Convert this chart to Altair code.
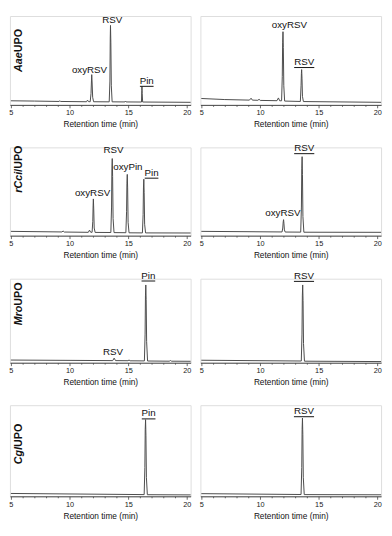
import altair as alt
import pandas as pd

# ---------------- data ----------------
# traces: (retention time [min], detector signal [a.u.])
# Row 1: AaeUPO
aae_left = [(5.0, 4.3), (7.0, 4.0), (9.1, 3.6), (9.17, 4.2), (9.25, 3.6), (11.45, 3.3), (11.53, 5.0),
            (11.62, 3.4), (11.76, 3.3), (11.83, 12), (11.87, 26), (11.89, 31.7), (11.92, 24), (11.97, 8),
            (12.05, 3.3), (13.38, 3.2), (13.44, 25), (13.47, 70), (13.49, 83.3), (13.52, 65), (13.56, 20),
            (13.63, 3.2), (14.72, 3.1), (14.77, 4.0), (14.82, 3.1), (16.13, 3.0), (16.16, 15), (16.17, 19.3),
            (16.19, 12), (16.23, 3.0), (20.32, 2.7)]
aae_right = [(5.0, 6.7), (7.0, 5.6), (9.1, 5.0), (9.24, 7.0), (9.35, 5.0), (9.82, 4.8), (9.92, 5.9),
             (10.02, 4.7), (11.45, 4.4), (11.57, 7.3), (11.68, 4.3), (11.84, 4.3), (11.9, 30), (11.93, 65),
             (11.96, 76.7), (11.99, 60), (12.03, 20), (12.1, 4.0), (13.44, 3.6), (13.5, 20), (13.53, 33),
             (13.55, 37), (13.58, 28), (13.62, 9), (13.7, 3.5), (20.32, 2.7)]
# Row 2: rCciUPO
cci_left = [(5.0, 4.5), (9.35, 3.9), (9.45, 4.9), (9.55, 3.8), (11.6, 3.5), (11.7, 5.8), (11.8, 3.6),
            (11.92, 3.5), (11.98, 15), (12.01, 32), (12.03, 38.5), (12.06, 28), (12.1, 8), (12.18, 3.4),
            (13.52, 3.3), (13.58, 30), (13.61, 70), (13.64, 80.8), (13.67, 62), (13.71, 18), (13.79, 3.2),
            (14.8, 3.1), (14.86, 25), (14.89, 55), (14.92, 64.2), (14.95, 50), (14.99, 14), (15.07, 3.0),
            (16.21, 2.9), (16.27, 22), (16.3, 50), (16.33, 59.2), (16.36, 45), (16.4, 12), (16.48, 2.9),
            (20.32, 2.8)]
cci_right = [(5.0, 4.5), (11.88, 3.9), (11.94, 8), (11.98, 14.5), (12.01, 16.8), (12.04, 13), (12.08, 6),
             (12.15, 3.8), (13.47, 3.7), (13.53, 30), (13.56, 70), (13.59, 82.8), (13.62, 64), (13.66, 20),
             (13.74, 3.6), (20.32, 3.5)]
# Row 3: MroUPO
mro_left = [(5.0, 2.8), (13.68, 2.2), (13.8, 4.8), (13.92, 2.2), (14.98, 2.1), (15.07, 2.9), (15.16, 2.0),
            (16.38, 1.9), (16.44, 30), (16.47, 70), (16.5, 81.5), (16.53, 66), (16.57, 22), (16.65, 1.8),
            (18.5, 1.6), (18.6, 2.3), (18.7, 1.6), (20.32, 1.5)]
mro_right = [(5.0, 2.6), (13.52, 1.8), (13.58, 30), (13.61, 70), (13.64, 81.5), (13.67, 65), (13.71, 20),
             (13.79, 1.6), (20.32, 1.2)]
# Row 4: CglUPO
cgl_left = [(5.0, 3.0), (16.36, 1.8), (16.42, 30), (16.45, 70), (16.48, 80.3), (16.51, 64), (16.55, 20),
            (16.63, 1.7), (20.32, 1.5)]
cgl_right = [(5.0, 2.8), (13.5, 1.9), (13.56, 30), (13.59, 70), (13.62, 82), (13.65, 65), (13.69, 20),
             (13.77, 1.8), (20.32, 1.6)]

# peak labels: (text, centre time, signal level of text baseline, underlined substrate?)
aae_left_lab = [("oxyRSV", 11.70, 33, False), ("RSV", 13.64, 86, False), ("Pin", 16.58, 22, True)]
aae_right_lab = [("oxyRSV", 12.50, 81, False), ("RSV", 13.77, 41.7, True)]
cci_left_lab = [("oxyRSV", 11.96, 41.8, False), ("RSV", 13.75, 86.8, False),
                ("oxyPin", 14.97, 68.5, False), ("Pin", 16.99, 62.8, True)]
cci_right_lab = [("oxyRSV", 11.95, 20.2, False), ("RSV", 13.77, 88.5, True)]
mro_left_lab = [("RSV", 13.71, 8.2, False), ("Pin", 16.72, 88.2, True)]
mro_right_lab = [("RSV", 13.75, 87.8, True)]
cgl_left_lab = [("Pin", 16.74, 83.7, True)]
cgl_right_lab = [("RSV", 13.75, 86, True)]

row_names = [("Aae", "UPO"), ("rCci", "/UPO"), ("Mro", "UPO"), ("Cgl", "UPO")]
tick_values = [5, 5.5, 6, 6.5, 7, 7.5, 8, 8.5, 9, 9.5, 10, 10.5, 11, 11.5, 12, 12.5, 13, 13.5, 14, 14.5,
               15, 15.5, 16, 16.5, 17, 17.5, 18, 18.5, 19, 19.5, 20]
tick_labels = [5, 10, 15, 20]

# ---------------- layout / style ----------------
FONT = "Liberation Sans"
TRACE = "#4a4a4a"
W = 185
K = 0.977                      # px per signal unit
PANEL_H = [91, 90.4, 86, 93.3]
ROW_GAP = 43.5
ROW_LABEL_Y = [37.1, 25, 27.6, 42.7]
ROW_LABEL_X = 12.5
UNDER_HALF = {"Pin": 7, "RSV": 10.3}

AXIS = alt.Axis(
    values=tick_values,
    format="d",
    labelExpr="indexof(" + str(tick_labels) + ", datum.value) >= 0 ? datum.label : ''",
    tickSize={"condition": {"test": "datum.value % 2.5 === 0", "value": 3}, "value": 1.5},
    tickColor="#444", domainColor="#444", domainWidth=1, tickWidth=0.8,
    labelFont=FONT, labelFontSize=7.5, labelColor="#222", labelPadding=1, labelFlush=False,
    titleFont=FONT, titleFontSize=8.5, titleFontWeight="normal", titleColor="#111", titlePadding=4,
    grid=False,
)


def panel(trace, labels, h, row_label=None, label_y=None):
    xs = alt.Scale(domain=[4.92, 20.32], nice=False, zero=False)
    ys = alt.Scale(domain=[0, h / K], nice=False, zero=False)
    X = alt.X("t:Q", scale=xs, axis=AXIS, title="Retention time (min)")
    Y = alt.Y("v:Q", scale=ys, axis=None)
    df = pd.DataFrame(trace, columns=["t", "v"])
    layers = [alt.Chart(df).mark_line(color=TRACE, strokeWidth=1).encode(x=X, y=Y)]
    lab = pd.DataFrame(labels, columns=["txt", "t", "v", "u"])
    layers.append(
        alt.Chart(lab).mark_text(font=FONT, fontSize=10, baseline="alphabetic", align="center",
                                 color="#111").encode(x=X, y=Y, text="txt:N"))
    for txt, t, v, u in labels:
        if u:
            hw = UNDER_HALF[txt]
            layers.append(
                alt.Chart(pd.DataFrame({"t": [t], "v": [v]})).mark_rule(
                    xOffset=-hw, x2Offset=hw, yOffset=2.5, color="#111", strokeWidth=1
                ).encode(x=X, x2=alt.X2("t"), y=Y))
    if row_label is not None:
        one = pd.DataFrame({"k": [0]})
        it, rest = row_label
        layers.append(
            alt.Chart(one).mark_text(angle=270, align="right", baseline="alphabetic", font=FONT,
                                     fontSize=11, fontWeight="bold", fontStyle="italic", color="#111"
                                     ).encode(x=alt.value(ROW_LABEL_X), y=alt.value(label_y), text=alt.value(it)))
        layers.append(
            alt.Chart(one).mark_text(angle=270, align="left", baseline="alphabetic", font=FONT,
                                     fontSize=11, fontWeight="bold", color="#111"
                                     ).encode(x=alt.value(ROW_LABEL_X), y=alt.value(label_y), text=alt.value(rest)))
    return alt.layer(*layers).properties(width=W, height=h)


rows = [
    (aae_left, aae_left_lab, aae_right, aae_right_lab),
    (cci_left, cci_left_lab, cci_right, cci_right_lab),
    (mro_left, mro_left_lab, mro_right, mro_right_lab),
    (cgl_left, cgl_left_lab, cgl_right, cgl_right_lab),
]
panels = []
for i, (lt, ll, rt, rl) in enumerate(rows):
    panels.append(panel(lt, ll, PANEL_H[i], row_names[i], ROW_LABEL_Y[i]))
    panels.append(panel(rt, rl, PANEL_H[i]))

chart = alt.concat(
    *panels, columns=2, spacing={"row": ROW_GAP, "column": 10}, bounds="flush", align="each", padding=0
).configure_view(strokeWidth=0).configure(background="white")

chart.save("out.html", embed_options={"renderer": "svg", "actions": False})
